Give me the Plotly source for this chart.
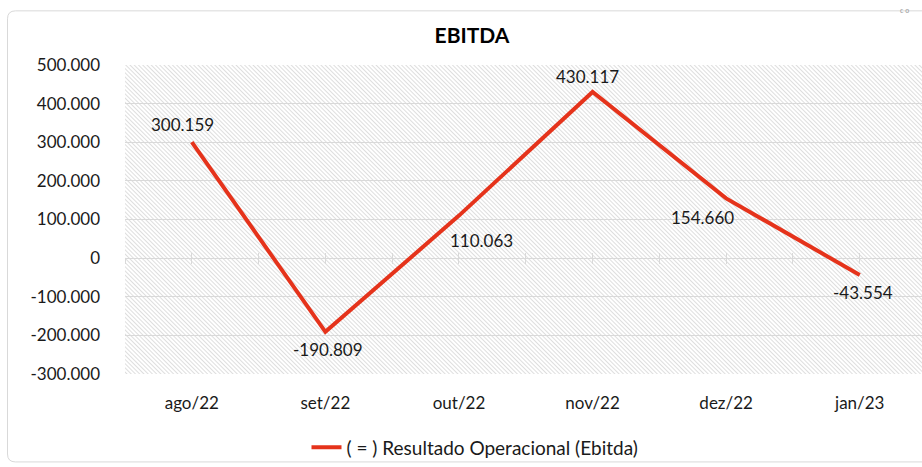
import base64
import plotly.graph_objects as go

# ---------------- data ----------------
categories = ["ago/22", "set/22", "out/22", "nov/22", "dez/22", "jan/23"]
ebitda = [300159, -190809, 110063, 430117, 154660, -43554]
series_name = "( = ) Resultado Operacional (Ebitda)"
title_text = "EBITDA"
y_tick_values = [-300000, -200000, -100000, 0, 100000, 200000, 300000, 400000, 500000]
y_tick_labels = ["-300.000", "-200.000", "-100.000", "0", "100.000",
                 "200.000", "300.000", "400.000", "500.000"]

# ---------------- style ----------------
OFF = 0  # body margin removed by post_script
W, H = 922, 467
ML, MR, MT, MB = 125, 0, 65, 91
PW, PH = W - ML - MR, H - MT - MB
x_range = [-0.5, 5.466]
y_range = [-300000, 500000]
label_shifts = [(-9, 18), (3, -18), (23, -25), (-5, 15), (-24, -19), (3, -18)]
FONT = "Lato"
RED = "#e5331b"
GRID = "#d9d9d9"
TXT = "#1a1a1a"


def fmt(v):
    s = f"{abs(v):,}".replace(",", ".")
    return ("-" if v < 0 else "") + s


def px_x(px):  # page pixel -> paper
    return (px - OFF - ML) / PW


def px_y(py):
    return (H - MB - (py - OFF)) / PH


# hatch background image (decoration)
svg = (
    f"<svg xmlns='http://www.w3.org/2000/svg' width='{PW}' height='{PH}'>"
    "<defs><pattern id='p' width='3' height='3' patternUnits='userSpaceOnUse' "
    "patternTransform='rotate(-45)'>"
    "<rect width='3' height='3' fill='white'/>"
    "<line x1='0.5' y1='0' x2='0.5' y2='3' stroke='#dedede' stroke-width='1'/>"
    "</pattern></defs>"
    f"<rect width='{PW}' height='{PH}' fill='url(#p)'/></svg>"
)
uri = "data:image/svg+xml;base64," + base64.b64encode(svg.encode()).decode()

fig = go.Figure()

# empty traces to register decorative tick axes
fig.add_trace(go.Scatter(x=[], y=[], xaxis="x2", yaxis="y", showlegend=False, hoverinfo="skip"))
fig.add_trace(go.Scatter(x=[], y=[], xaxis="x3", yaxis="y", showlegend=False, hoverinfo="skip"))

fig.add_trace(go.Scatter(
    x=categories, y=ebitda, mode="lines", name=series_name,
    line=dict(color=RED, width=4), xaxis="x", yaxis="y",
))

annotations = []
for c, v, (dx, dy) in zip(categories, ebitda, label_shifts):
    annotations.append(dict(
        x=c, y=v, xref="x", yref="y", text=fmt(v), showarrow=False,
        xshift=dx, yshift=dy, font=dict(family=FONT, size=17, color=TXT),
    ))
annotations.append(dict(
    x=px_x(911), y=px_y(4), xref="paper", yref="paper", text="c o", showarrow=False,
    font=dict(family=FONT, size=7, color="#999999"),
))

# rounded border path (paper coords)
r = 8
L, T, R, B = 7.5, 10.5, 935, 464.5
path = (
    f"M {px_x(R)} {px_y(T)} L {px_x(L + r)} {px_y(T)} "
    f"Q {px_x(L)} {px_y(T)} {px_x(L)} {px_y(T + r)} "
    f"L {px_x(L)} {px_y(B - r)} "
    f"Q {px_x(L)} {px_y(B)} {px_x(L + r)} {px_y(B)} "
    f"L {px_x(R)} {px_y(B)}"
)

zero_pos = (0 - y_range[0]) / (y_range[1] - y_range[0])
tick_axis = dict(
    overlaying="x", anchor="free", position=zero_pos, range=x_range,
    tickmode="linear", tick0=-0.5, dtick=0.5, ticklen=5, tickcolor=GRID,
    showline=True, linecolor=GRID, linewidth=1, showticklabels=False,
    showgrid=False, zeroline=False, layer="below traces", side="bottom",
)

fig.update_layout(
    width=W, height=H,
    margin=dict(l=ML, r=MR, t=MT, b=MB),
    paper_bgcolor="white", plot_bgcolor="rgba(0,0,0,0)",
    font=dict(family=FONT, size=17, color=TXT),
    title=dict(text=f"<b>{title_text}</b>", x=(472 - OFF) / W, xref="container", xanchor="center",
               y=1 - (36 - OFF) / H, yanchor="middle", font=dict(family=FONT, size=21, color="black")),
    xaxis=dict(type="category", range=x_range, showgrid=False, showline=False, ticks="",
               zeroline=False, tickfont=dict(size=17, color=TXT), ticklabelstandoff=17),
    xaxis2=dict(**tick_axis, ticks="outside"),
    xaxis3=dict(**tick_axis, ticks="inside"),
    yaxis=dict(range=y_range, tickmode="array", tickvals=y_tick_values, ticktext=y_tick_labels,
               showgrid=True, gridcolor=GRID, gridwidth=1, zeroline=False, showline=False,
               ticks="", tickfont=dict(size=17, color=TXT), ticklabelstandoff=24),
    showlegend=True,
    legend=dict(orientation="h", x=px_x(475), xanchor="center", y=px_y(450), yanchor="middle",
                font=dict(family=FONT, size=19, color=TXT), bgcolor="rgba(0,0,0,0)"),
    annotations=annotations,
    shapes=[dict(type="path", path=path, xref="paper", yref="paper",
                 line=dict(color=GRID, width=1), layer="above")],
    images=[dict(source=uri, xref="paper", yref="paper", x=0, y=1, sizex=1, sizey=1,
                 xanchor="left", yanchor="top", sizing="stretch", layer="below")],
)

fig.write_html(
    "out.html",
    config={"displayModeBar": False},
    post_script="document.body.style.margin='0';document.body.style.overflow='hidden';",
)
